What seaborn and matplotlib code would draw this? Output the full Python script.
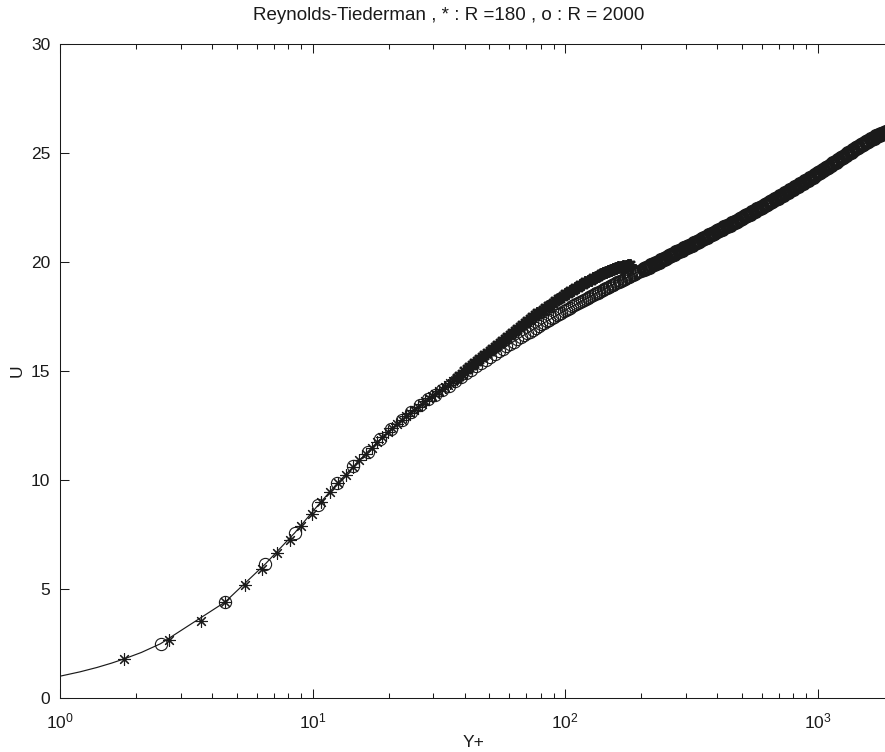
import numpy as np
import matplotlib
matplotlib.use("Agg")
import matplotlib.pyplot as plt
import matplotlib.ticker as mticker
import seaborn as sns

# ---------------- data ----------------
TITLE = "Reynolds-Tiederman , * : R =180 , o : R = 2000"
XLABEL = "Y+"
YLABEL = "U"

# solid model curve, wall part (continues along the R=2000 points)
line_yp = [1.0, 1.2, 1.4, 1.6, 1.8, 2.1]
line_u = [1.0, 1.2, 1.4, 1.6, 1.8, 2.09]

# R = 180  ('*')
r180_yp = [1.8, 2.7, 3.6, 4.5, 5.4, 6.3, 7.2, 8.1, 9.0, 9.9,
           10.8, 11.7, 12.6, 13.5, 14.4, 15.3, 16.2, 17.1, 18.0, 18.9,
           19.8, 20.7, 21.6, 22.5, 23.4, 24.3, 25.2, 26.1, 27.0, 27.9,
           28.8, 29.7, 30.6, 31.5, 32.4, 33.3, 34.2, 35.1, 36.0,
           37.15, 38.02, 38.90, 39.81, 40.74, 41.69, 42.66, 43.65, 44.67, 45.71,
           46.77, 47.86, 48.98, 50.12, 51.29, 52.48, 53.70, 54.95, 56.23, 57.54,
           58.88, 60.26, 61.66, 63.10, 64.57, 66.07, 67.61, 69.18, 70.79, 72.44,
           74.13, 75.86, 77.62, 79.43, 81.28, 83.18, 85.11, 87.10, 89.13, 91.20,
           93.33, 95.50, 97.72, 100.0, 102.3, 104.7, 107.2, 109.6, 112.2, 114.8,
           117.5, 120.2, 123.0, 125.9, 128.8, 131.8, 134.9, 138.0, 141.3, 144.5,
           147.9, 151.4, 154.9, 158.5, 162.2, 166.0, 169.8, 173.8, 177.8, 180.0]
r180_u = [1.80, 2.68, 3.55, 4.40, 5.18, 5.93, 6.64, 7.27, 7.89, 8.45,
          9.00, 9.44, 9.88, 10.24, 10.58, 10.90, 11.19, 11.47, 11.73, 11.96,
          12.18, 12.39, 12.59, 12.77, 12.94, 13.09, 13.23, 13.37, 13.50, 13.64,
          13.75, 13.86, 13.96, 14.06, 14.16, 14.25, 14.36, 14.46, 14.56,
          14.69, 14.79, 14.88, 14.98, 15.07, 15.17, 15.27, 15.37, 15.46, 15.55,
          15.65, 15.75, 15.84, 15.94, 16.02, 16.11, 16.20, 16.30, 16.38, 16.48,
          16.57, 16.66, 16.75, 16.84, 16.93, 17.02, 17.12, 17.20, 17.29, 17.38,
          17.47, 17.55, 17.64, 17.72, 17.80, 17.88, 17.96, 18.05, 18.13, 18.20,
          18.28, 18.36, 18.44, 18.51, 18.58, 18.65, 18.72, 18.79, 18.86, 18.93,
          19.00, 19.06, 19.13, 19.19, 19.25, 19.32, 19.38, 19.44, 19.49, 19.54,
          19.59, 19.64, 19.68, 19.72, 19.75, 19.79, 19.81, 19.83, 19.85, 19.86]

# R = 2000  ('o')
r2000_yp = [2.5, 4.5, 6.5, 8.5, 10.5, 12.5, 14.5, 16.5, 18.5, 20.5,
            22.5, 24.5, 26.5, 28.5,
            30.5, 32.5, 34.5, 36.5, 38.5, 40.5, 42.5, 44.5, 46.5, 48.5,
            50.5, 52.5, 54.5, 56.5, 58.5, 60.5, 62.5, 64.5, 66.5, 68.5,
            70.5, 72.5, 74.5, 76.5, 78.5, 80.5, 82.5, 84.5, 86.5, 88.5,
            90.5, 92.5, 94.5, 96.5, 98.5, 100.5, 102.5, 104.5, 106.5, 108.5,
            110.5, 112.5, 114.5, 116.5, 118.5, 120.5, 122.5, 124.5, 126.5, 128.5,
            130.5, 132.5, 134.5, 136.5, 138.5, 140.5, 142.5, 144.5, 146.5, 148.5,
            150.5, 152.5, 154.5, 156.5, 158.5, 160.5, 162.5, 164.5, 166.5, 168.5,
            170.5, 172.5, 174.5, 176.5, 178.5, 180.5, 182.5, 184.5, 186.5, 188.5,
            190.5, 192.5, 194.5, 196.5, 198.5,
            204.2, 208.9, 213.8, 218.8, 223.9, 229.1, 234.4, 239.9, 245.5, 251.2,
            257.0, 263.0, 269.2, 275.4, 281.8, 288.4, 295.1, 302.0, 309.0, 316.2,
            323.6, 331.1, 338.8, 346.7, 354.8, 363.1, 371.5, 380.2, 389.1, 398.1,
            407.4, 416.9, 426.6, 436.5, 446.7, 457.1, 467.7, 478.6, 489.8, 501.2,
            512.9, 524.8, 537.0, 549.5, 562.3, 575.4, 588.8, 602.6, 616.6, 631.0,
            645.7, 660.7, 676.1, 691.8, 708.0, 724.4, 741.3, 758.6, 776.2, 794.3,
            812.8, 831.8, 851.1, 871.0, 891.3, 912.0, 933.3, 955.0, 977.2, 1000.0,
            1023.0, 1047.0, 1072.0, 1097.0, 1122.0, 1148.0, 1175.0, 1202.0, 1230.0, 1259.0,
            1288.0, 1318.0, 1349.0, 1380.0, 1413.0, 1445.0, 1479.0, 1514.0, 1549.0, 1585.0,
            1622.0, 1660.0, 1698.0, 1738.0, 1778.0, 1820.0, 1862.0, 1906.0, 1950.0, 1995.0]
r2000_u = [2.49, 4.40, 6.15, 7.58, 8.84, 9.84, 10.62, 11.29, 11.86, 12.35,
           12.77, 13.12, 13.43, 13.70,
           13.90, 14.12, 14.33, 14.52, 14.72, 14.89, 15.05, 15.21, 15.36, 15.50,
           15.64, 15.77, 15.90, 16.02, 16.13, 16.25, 16.35, 16.45, 16.54, 16.64,
           16.73, 16.81, 16.90, 16.98, 17.06, 17.14, 17.21, 17.28, 17.35, 17.42,
           17.49, 17.55, 17.62, 17.68, 17.74, 17.80, 17.86, 17.91, 17.96, 18.01,
           18.06, 18.11, 18.16, 18.21, 18.25, 18.31, 18.35, 18.39, 18.44, 18.48,
           18.52, 18.56, 18.60, 18.64, 18.68, 18.71, 18.75, 18.79, 18.82, 18.86,
           18.90, 18.93, 18.96, 18.99, 19.03, 19.06, 19.09, 19.12, 19.15, 19.18,
           19.21, 19.24, 19.27, 19.30, 19.33, 19.36, 19.39, 19.41, 19.44, 19.47,
           19.49, 19.52, 19.55, 19.57, 19.60,
           19.67, 19.73, 19.79, 19.85, 19.90, 19.96, 20.02, 20.08, 20.14, 20.20,
           20.26, 20.32, 20.38, 20.44, 20.50, 20.56, 20.62, 20.68, 20.74, 20.80,
           20.86, 20.92, 20.98, 21.04, 21.10, 21.16, 21.22, 21.28, 21.34, 21.40,
           21.46, 21.53, 21.59, 21.65, 21.71, 21.77, 21.84, 21.90, 21.96, 22.03,
           22.09, 22.15, 22.22, 22.28, 22.35, 22.41, 22.48, 22.54, 22.61, 22.67,
           22.74, 22.81, 22.87, 22.94, 23.01, 23.08, 23.15, 23.21, 23.28, 23.35,
           23.42, 23.49, 23.56, 23.64, 23.71, 23.78, 23.85, 23.92, 24.00, 24.07,
           24.15, 24.22, 24.29, 24.37, 24.44, 24.52, 24.60, 24.67, 24.75, 24.82,
           24.90, 24.98, 25.06, 25.13, 25.21, 25.28, 25.36, 25.43, 25.50, 25.57,
           25.64, 25.70, 25.77, 25.83, 25.89, 25.94, 25.98, 26.02, 26.04, 26.05]

x_ticks = [1, 10, 100, 1000]
y_ticks = [0, 5, 10, 15, 20, 25, 30]

# ---------------- style ----------------
sns.set_theme(style="ticks")
plt.rcParams["font.family"] = ["Liberation Sans", "DejaVu Sans"]
plt.rcParams["mathtext.fontset"] = "custom"
plt.rcParams["mathtext.rm"] = "Liberation Sans"
plt.rcParams["mathtext.it"] = "Liberation Sans:italic"
plt.rcParams["mathtext.bf"] = "Liberation Sans:bold"

W, H = 885, 752
fig = plt.figure(figsize=(W / 100, H / 100), dpi=100)
fig.patch.set_facecolor("white")
# axes: left at 60 px, bottom at 698 px, top at 44 px, right spine just beyond the image
ax = fig.add_axes([60 / W, (H - 698) / H, 834 / W, 654 / H])
ax.set_facecolor("white")
ax.set_xscale("log")

# model curve
line_x = line_yp + r2000_yp
line_y = line_u + r2000_u
sns.lineplot(x=line_x, y=line_y, ax=ax, color="k", linewidth=0.85,
             estimator=None, sort=False)

# R = 180 asterisks (isolated near the wall, overlapping further out)
yp1 = np.array(r180_yp)
u1 = np.array(r180_u)
wall1 = yp1 <= 36.5
sns.lineplot(x=yp1[wall1], y=u1[wall1], ax=ax, color="k", linestyle="",
             marker=(8, 2, 0), markersize=8.8, markeredgewidth=0.8,
             markeredgecolor="k", estimator=None, sort=False)
sns.lineplot(x=yp1[~wall1], y=u1[~wall1], ax=ax, color="k", linestyle="",
             marker=(8, 2, 0), markersize=8.8, markeredgewidth=1.7,
             markeredgecolor="k", estimator=None, sort=False)

# R = 2000 open circles
yp2 = np.array(r2000_yp)
u2 = np.array(r2000_u)
near = yp2 < 200
sns.lineplot(x=yp2[near], y=u2[near], ax=ax, color="k", linestyle="",
             marker="o", markersize=8.8, markerfacecolor="none",
             markeredgecolor="k", markeredgewidth=0.8,
             estimator=None, sort=False)
sns.lineplot(x=yp2[~near], y=u2[~near], ax=ax, color="k", linestyle="",
             marker="o", markersize=8.8, markerfacecolor="none",
             markeredgecolor="k", markeredgewidth=2.2,
             estimator=None, sort=False)

ax.set_xlim(1, 2000)
ax.set_ylim(0, 30)
ax.xaxis.set_major_locator(mticker.FixedLocator(x_ticks))
ax.xaxis.set_major_formatter(mticker.LogFormatterSciNotation())
ax.xaxis.set_minor_locator(mticker.LogLocator(base=10, subs=np.arange(2, 10), numticks=20))
ax.xaxis.set_minor_formatter(mticker.NullFormatter())
ax.yaxis.set_major_locator(mticker.FixedLocator(y_ticks))
ax.yaxis.set_minor_locator(mticker.NullLocator())

ax.tick_params(which="both", direction="in", top=True, right=True,
               colors="k", width=0.75, labelsize=12.5)
ax.tick_params(which="major", length=6.5)
ax.tick_params(which="minor", length=3.5)
ax.tick_params(axis="x", which="major", pad=10)
ax.tick_params(axis="y", which="major", pad=7)
for s in ax.spines.values():
    s.set_linewidth(0.75)
    s.set_color("k")
    s.set_visible(True)

ax.set_xlabel(XLABEL, fontsize=12.5, color="k")
ax.set_ylabel(YLABEL, fontsize=12.5, color="k")
ax.xaxis.set_label_coords(0.496, -0.056)
ax.yaxis.set_label_coords(-0.043, 0.5)
ax.grid(False)

fig.text(449 / W, 1 - 16 / H, TITLE, ha="center", va="center", fontsize=13.5, color="k")

fig.savefig("out.png", dpi=100, facecolor="white")
